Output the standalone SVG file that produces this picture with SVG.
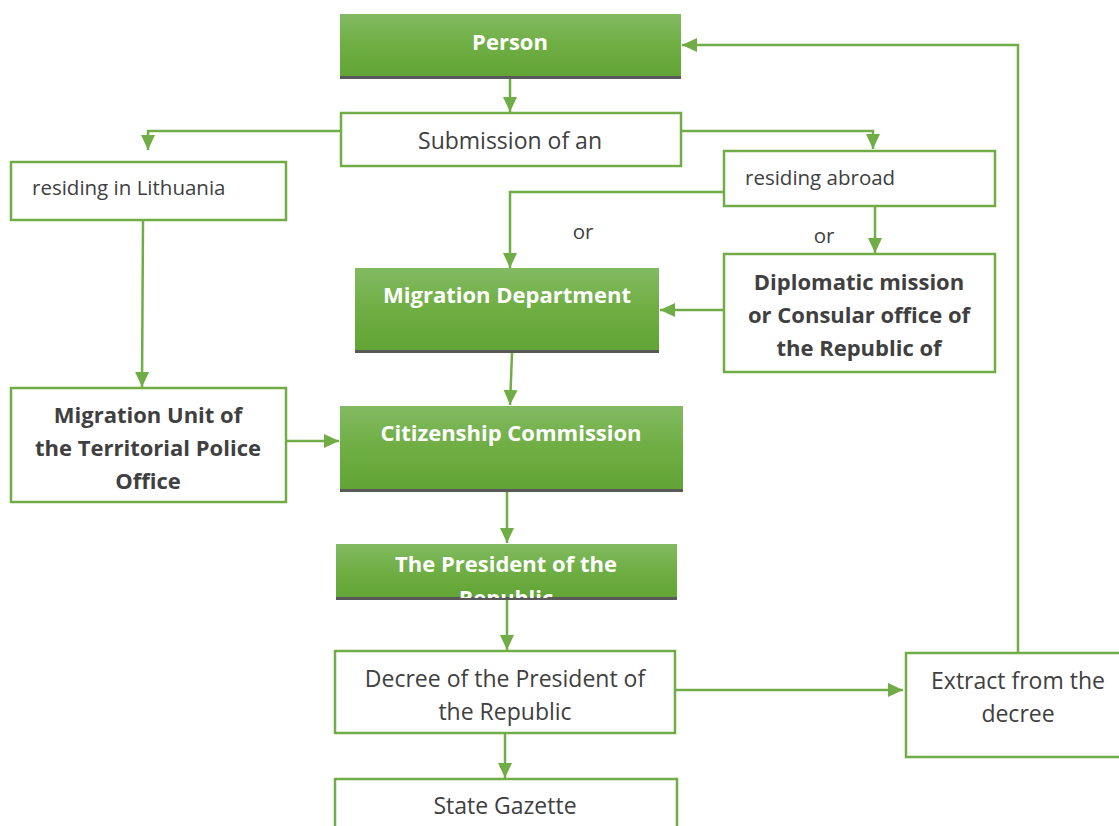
<svg xmlns="http://www.w3.org/2000/svg" width="1119" height="826" viewBox="0 0 1119 826">
<style>
.box{fill:#fff;stroke:#70AD47;stroke-width:2.5}
.g{fill:url(#gr)}
.sh{fill:#595959}
.t{font-family:"Open Sans","Liberation Sans",sans-serif;font-size:23px;fill:#404040}
.s{font-family:"Open Sans","Liberation Sans",sans-serif;font-size:20.5px;fill:#404040}
.b{font-family:"Open Sans","Liberation Sans",sans-serif;font-size:22px;font-weight:bold;fill:#404040}
.w{font-family:"Open Sans","Liberation Sans",sans-serif;font-size:22px;font-weight:bold;fill:#fff}
.c{text-anchor:middle}
.ln{fill:none;stroke:#70AD47;stroke-width:2.5}
</style>
<defs>
<linearGradient id="gr" x1="0" y1="0" x2="0" y2="1">
<stop offset="0" stop-color="#82BA62"/>
<stop offset="0.5" stop-color="#6FAE43"/>
<stop offset="1" stop-color="#62A435"/>
</linearGradient>
<marker id="ah" markerUnits="userSpaceOnUse" markerWidth="16" markerHeight="16" viewBox="0 0 16 16" refX="15" refY="8" orient="auto">
<path d="M0,1 L15,8 L0,15 Z" fill="#70AD47"/>
</marker>
<clipPath id="pc"><rect x="336" y="544" width="341" height="54"/></clipPath>
</defs>
<g id="connectors">
<path class="ln" d="M510,79 V112" marker-end="url(#ah)"/>
<path class="ln" d="M340,131 H148 V150" marker-end="url(#ah)"/>
<path class="ln" d="M681,131 H873 V149" marker-end="url(#ah)"/>
<path class="ln" d="M724,192 H510 V268" marker-end="url(#ah)"/>
<path class="ln" d="M875,206 V253" marker-end="url(#ah)"/>
<path class="ln" d="M724,310 H660" marker-end="url(#ah)"/>
<path class="ln" d="M143,221 L142,387" marker-end="url(#ah)"/>
<path class="ln" d="M512,353 L510,405" marker-end="url(#ah)"/>
<path class="ln" d="M286,441 H339" marker-end="url(#ah)"/>
<path class="ln" d="M507,492 V543" marker-end="url(#ah)"/>
<path class="ln" d="M507,600 V650" marker-end="url(#ah)"/>
<path class="ln" d="M675,690 H903" marker-end="url(#ah)"/>
<path class="ln" d="M505,733 V778" marker-end="url(#ah)"/>
<path class="ln" d="M1018,652 V45 H682" marker-end="url(#ah)"/>
</g>
<g id="person">
<rect class="g" x="340" y="14" width="341" height="62"/>
<rect class="sh" x="340" y="76" width="341" height="3"/>
<text class="w c" x="510" y="50">Person</text>
</g>
<g id="submission">
<rect class="box" x="341" y="113" width="340" height="53"/>
<text class="t c" x="510" y="149">Submission of an</text>
</g>
<g id="residing-lithuania">
<rect class="box" x="11" y="162" width="275" height="58"/>
<text class="s" x="32" y="195">residing in Lithuania</text>
</g>
<g id="residing-abroad">
<rect class="box" x="724" y="151" width="271" height="55"/>
<text class="s" x="745" y="185">residing abroad</text>
</g>
<g id="or-labels">
<text class="s c" x="583" y="239">or</text>
<text class="s c" x="824" y="243">or</text>
</g>
<g id="migration-department">
<rect class="g" x="355" y="268" width="304" height="82"/>
<rect class="sh" x="355" y="350" width="304" height="3"/>
<text class="w c" x="507" y="303">Migration Department</text>
</g>
<g id="diplomatic">
<rect class="box" x="724" y="254" width="271" height="118"/>
<text class="b c" x="859" y="290">Diplomatic mission</text>
<text class="b c" x="859" y="323">or Consular office of</text>
<text class="b c" x="859" y="356">the Republic of</text>
</g>
<g id="migration-unit">
<rect class="box" x="11" y="388" width="275" height="114"/>
<text class="b c" x="148" y="423">Migration Unit of</text>
<text class="b c" x="148" y="456">the Territorial Police</text>
<text class="b c" x="148" y="489">Office</text>
</g>
<g id="citizenship">
<rect class="g" x="340" y="406" width="343" height="83"/>
<rect class="sh" x="340" y="489" width="343" height="3"/>
<text class="w c" x="511" y="441">Citizenship Commission</text>
</g>
<g id="president">
<rect class="g" x="336" y="544" width="341" height="54"/>
<rect class="sh" x="336" y="597" width="341" height="3"/>
<g clip-path="url(#pc)">
<text class="w c" x="506" y="572">The President of the</text>
<text class="w c" x="506" y="606">Republic</text>
</g>
</g>
<g id="decree">
<rect class="box" x="335" y="651" width="340" height="82"/>
<text class="t c" x="505" y="687">Decree of the President of</text>
<text class="t c" x="505" y="720">the Republic</text>
</g>
<g id="extract">
<rect class="box" x="906" y="653" width="220" height="104"/>
<text class="t c" x="1018" y="689">Extract from the</text>
<text class="t c" x="1018" y="722">decree</text>
</g>
<g id="state-gazette">
<rect class="box" x="335" y="779" width="342" height="60"/>
<text class="t c" x="505" y="814">State Gazette</text>
</g>
</svg>
